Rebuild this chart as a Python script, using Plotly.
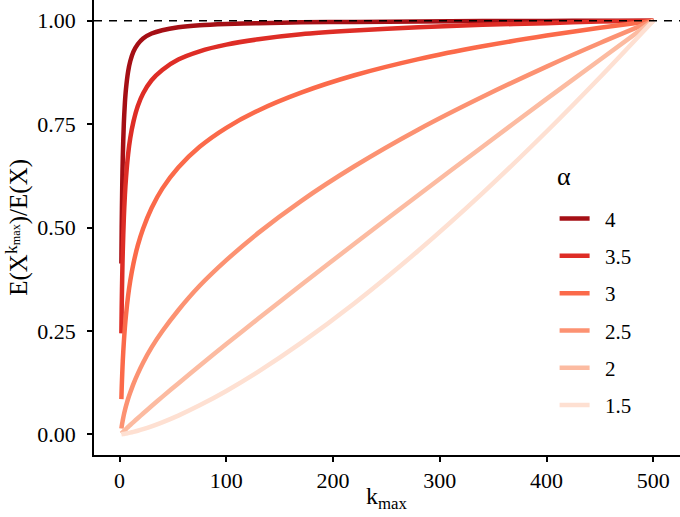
import plotly.graph_objects as go

# k_max grid (x values)
k_max = [1.7, 2, 2.5, 3, 4, 5, 6, 8, 10, 13, 17, 22, 30, 40, 55, 75, 100,
         130, 170, 220, 280, 340, 400, 450, 500]

alpha_labels = ["4", "3.5", "3", "2.5", "2", "1.5"]

ratio_a4 = [0.413, 0.501, 0.601, 0.668, 0.752, 0.802, 0.835, 0.877, 0.902, 0.925,
            0.943, 0.957, 0.969, 0.977, 0.984, 0.989, 0.992, 0.994, 0.996, 0.997,
            0.998, 0.999, 0.9995, 0.9998, 1.0]
ratio_a35 = [0.244, 0.307, 0.385, 0.442, 0.523, 0.579, 0.619, 0.677, 0.716, 0.756,
             0.793, 0.824, 0.856, 0.881, 0.906, 0.926, 0.942, 0.955, 0.967, 0.976,
             0.984, 0.990, 0.994, 0.998, 1.0]
ratio_a3 = [0.085, 0.112, 0.147, 0.177, 0.223, 0.259, 0.288, 0.335, 0.371, 0.413,
            0.456, 0.497, 0.547, 0.594, 0.645, 0.695, 0.741, 0.783, 0.826, 0.868,
            0.907, 0.938, 0.964, 0.983, 1.0]
ratio_a25 = [0.014, 0.019, 0.027, 0.034, 0.047, 0.058, 0.068, 0.086, 0.101, 0.122,
             0.146, 0.173, 0.210, 0.249, 0.300, 0.359, 0.421, 0.487, 0.564, 0.648,
             0.737, 0.816, 0.889, 0.946, 1.0]
ratio_a2 = [0.0019, 0.0027, 0.0040, 0.0053, 0.0078, 0.0103, 0.0128, 0.0177, 0.0225,
            0.0296, 0.0389, 0.0503, 0.0683, 0.0905, 0.1231, 0.1657, 0.2181, 0.2798,
            0.3610, 0.4607, 0.5787, 0.6953, 0.8110, 0.9056, 1.0]
ratio_a15 = [0.0002, 0.0003, 0.0004, 0.0006, 0.0010, 0.0014, 0.0019, 0.0029, 0.0040,
             0.0059, 0.0086, 0.0124, 0.0193, 0.0290, 0.0453, 0.0701, 0.1049, 0.1516,
             0.2209, 0.3169, 0.4443, 0.5830, 0.7321, 0.8633, 1.0]

series = [ratio_a4, ratio_a35, ratio_a3, ratio_a25, ratio_a2, ratio_a15]
colors = ["#A50F15", "#DE2D26", "#FB6A4A", "#FC9272", "#FCBBA1", "#FEE0D2"]

x_ticks = [0, 100, 200, 300, 400, 500]
y_ticks = [0, 0.25, 0.5, 0.75, 1.0]
y_ticktext = ["0.00", "0.25", "0.50", "0.75", "1.00"]

FONT = "Liberation Serif"

fig = go.Figure()
for lab, vals, col in zip(alpha_labels, series, colors):
    fig.add_trace(go.Scatter(
        x=k_max, y=vals, mode="lines", name="  " + lab, legendgroup=lab,
        line=dict(color=col, width=4.5, shape="spline", smoothing=0.8),
        hoverinfo="skip",
    ))

fig.add_shape(type="line", xref="paper", x0=0, x1=1, yref="y", y0=1, y1=1,
              line=dict(color="black", width=1.5, dash="8px,7px"), layer="above")

axis_common = dict(
    showline=True, linecolor="black", linewidth=1.6, mirror=False,
    ticks="outside", ticklen=5, tickwidth=1.6, tickcolor="black",
    showgrid=False, zeroline=False, automargin=False,
    tickfont=dict(family=FONT, size=22, color="black"),
)

fig.update_layout(
    width=680, height=517,
    margin=dict(l=94, r=0, t=0, b=62),
    paper_bgcolor="white", plot_bgcolor="white",
    font=dict(family=FONT, color="black"),
    xaxis=dict(range=[-23.95, 524.95], tickvals=x_ticks, **axis_common),
    yaxis=dict(range=[-0.05, 1.05], tickvals=y_ticks, ticktext=y_ticktext,
               ticklabelstandoff=7, **axis_common),
    showlegend=True,
    legend=dict(
        x=0.786, y=0.564, xanchor="left", yanchor="top",
        bgcolor="rgba(0,0,0,0)",
        font=dict(family=FONT, size=21, color="black"),
        tracegroupgap=7, traceorder="grouped",
    ),
    annotations=[
        dict(text="k<sub>max</sub>", xref="paper", yref="paper", x=0.5, y=0,
             xanchor="center", yanchor="top", yshift=-26, showarrow=False,
             font=dict(family=FONT, size=24, color="black")),
        dict(text="E(X<sup>k<sub>max</sub></sup>)/E(X)", xref="paper", yref="paper",
             x=-0.131, y=0.5, xanchor="center", yanchor="middle", textangle=-90,
             showarrow=False, font=dict(family=FONT, size=25, color="black")),
        dict(text="α", xref="paper", yref="paper", x=(555 - 94) / 586,
             y=(455 - 177) / 455, xanchor="left", yanchor="middle",
             showarrow=False, font=dict(family=FONT, size=26, color="black")),
    ],
)

fig.write_html("out.html",
               config={"displayModeBar": False, "staticPlot": False},
               post_script="document.body.style.margin='0px';"
                           "document.body.style.overflow='hidden';")
